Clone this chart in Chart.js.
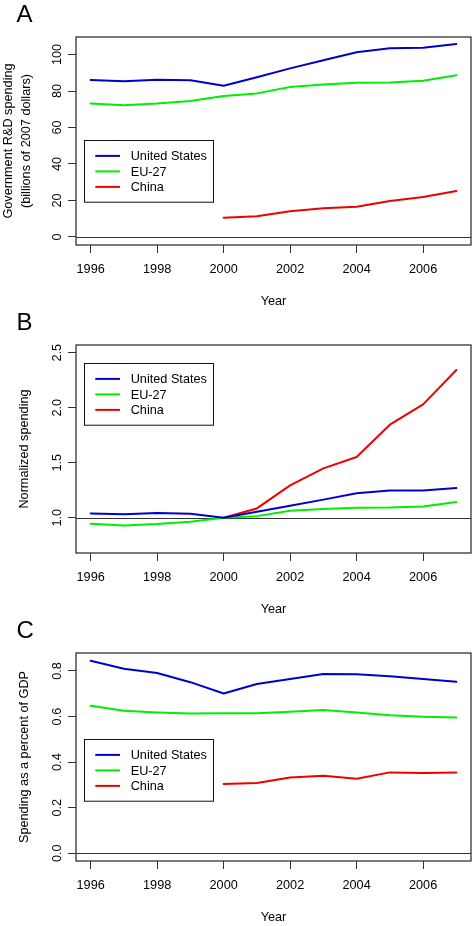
<!DOCTYPE html>
<html><head><meta charset="utf-8">
<script src="https://cdn.jsdelivr.net/npm/chart.js@4.4.1/dist/chart.umd.min.js"></script>
<style>
html,body{margin:0;padding:0;background:#fff;width:476px;height:926px;overflow:hidden;}
.panel{position:absolute;left:0;width:476px;height:308px;}
canvas{display:block;}
.lbl{position:absolute;left:16.5px;font-family:"Liberation Sans",Arial,sans-serif;font-size:24px;line-height:24px;color:#000;}
</style></head><body>
<div class="panel" style="top:0"><canvas id="cA" width="476" height="308"></canvas></div>
<div class="panel" style="top:308px"><canvas id="cB" width="476" height="308"></canvas></div>
<div class="panel" style="top:616px"><canvas id="cC" width="476" height="308"></canvas></div>
<div class="lbl" style="top:2px">A</div>
<div class="lbl" style="top:310px">B</div>
<div class="lbl" style="top:618px">C</div>
<script>
const years = [1996,1997,1998,1999,2000,2001,2002,2003,2004,2005,2006,2007];
const seriesNames = ['United States','EU-27','China'];
const seriesColors = ['#0000CD','#00EE00','#EE0000'];

const rdUS = [86.0,85.3,86.2,85.9,82.9,87.5,92.4,96.9,101.2,103.4,103.7,105.8];
const rdEU = [73.2,72.2,73.1,74.5,77.3,78.7,82.2,83.5,84.5,84.7,85.6,88.6];
const rdCN = [null,null,null,null,10.6,11.3,14.1,15.7,16.6,19.7,21.9,25.2];

const normUS = [1.040,1.031,1.043,1.036,1.000,1.055,1.109,1.165,1.222,1.249,1.249,1.270];
const normEU = [0.945,0.930,0.943,0.964,1.000,1.015,1.064,1.080,1.091,1.093,1.103,1.143];
const normCN = [null,null,null,null,1.000,1.085,1.294,1.449,1.552,1.846,2.030,2.343];

const gdpUS = [0.845,0.810,0.791,0.751,0.701,0.743,0.765,0.787,0.786,0.777,0.765,0.753];
const gdpEU = [0.647,0.626,0.618,0.613,0.615,0.614,0.621,0.629,0.618,0.606,0.599,0.596];
const gdpCN = [null,null,null,null,0.304,0.308,0.333,0.340,0.327,0.355,0.352,0.355];

const xTicks = [1996,1998,2000,2002,2004,2006];
const yTicksA = [0,20,40,60,80,100];
const yTickLabelsA = ['0','20','40','60','80','100'];
const yTicksB = [1.0,1.5,2.0,2.5];
const yTickLabelsB = ['1.0','1.5','2.0','2.5'];
const yTicksC = [0,0.2,0.4,0.6,0.8];
const yTickLabelsC = ['0.0','0.2','0.4','0.6','0.8'];

const FONT = '"Liberation Sans", Arial, sans-serif';
Chart.defaults.font.family = FONT;
Chart.defaults.font.size = 12.7;
Chart.defaults.color = '#000';
const AXC = '#333';

const refPlugin = {
  id: 'refline',
  beforeDatasetsDraw(chart, args, opts) {
    const {ctx, chartArea: a, scales} = chart;
    const y = Math.round(scales.y.getPixelForValue(opts.value)) + 0.5;
    ctx.save();
    ctx.strokeStyle = AXC; ctx.lineWidth = 1;
    ctx.beginPath(); ctx.moveTo(a.left, y); ctx.lineTo(a.right, y); ctx.stroke();
    ctx.restore();
  }
};
const framePlugin = {
  id: 'rframe',
  afterDraw(chart, args, opts) {
    const {ctx, chartArea: a} = chart;
    ctx.save();
    ctx.strokeStyle = AXC; ctx.lineWidth = 1.3;
    ctx.strokeRect(a.left, a.top, a.right - a.left, a.bottom - a.top);
    // legend box
    const bx = a.left + opts.dx, by = a.top + opts.dy, bw = 129, bh = 61.7;
    ctx.fillStyle = '#fff';
    ctx.fillRect(bx, by, bw, bh);
    ctx.strokeStyle = '#111'; ctx.lineWidth = 1;
    ctx.strokeRect(Math.round(bx) + 0.5, Math.round(by) + 0.5, bw, bh);
    ctx.font = '12.7px ' + FONT;
    ctx.textBaseline = 'middle'; ctx.textAlign = 'left';
    chart.data.datasets.forEach((ds, i) => {
      const ry = by + 15.6 + i * 15.5;
      ctx.strokeStyle = ds.borderColor; ctx.lineWidth = 2;
      ctx.beginPath(); ctx.moveTo(bx + 11, ry); ctx.lineTo(bx + 35.7, ry); ctx.stroke();
      ctx.fillStyle = '#000';
      ctx.fillText(ds.label, bx + 46.4, ry + 0.6);
    });
    ctx.restore();
  }
};

function makeChart(id, values, yMin, yMax, yTicks, yTickLabels, yTitle, yTitlePad, yTickPad, ref, legendDy) {
  const datasets = values.map((vals, i) => ({
    label: seriesNames[i],
    data: years.map((yr, j) => ({x: yr, y: vals[j]})),
    borderColor: seriesColors[i],
    borderWidth: 2,
    pointRadius: 0,
    tension: 0,
    fill: false,
    spanGaps: false,
    borderCapStyle: 'round',
    borderJoinStyle: 'round'
  }));
  return new Chart(document.getElementById(id), {
    type: 'line',
    data: {datasets},
    plugins: [refPlugin, framePlugin],
    options: {
      responsive: false,
      animation: false,
      devicePixelRatio: 1,
      events: [],
      layout: {padding: {left: 0, right: 5, top: 37, bottom: 0}},
      plugins: {
        legend: {display: false},
        tooltip: {enabled: false},
        refline: {value: ref},
        rframe: {dx: 8.3, dy: legendDy}
      },
      scales: {
        x: {
          type: 'linear',
          min: 1995.56, max: 2007.44,
          afterBuildTicks: s => { s.ticks = xTicks.map(v => ({value: v})); },
          afterFit: s => { s.height = 63; },
          ticks: {callback: v => String(v), padding: 9.3, autoSkip: false, maxRotation: 0, color: '#000', font: {size: 12.7}},
          grid: {display: true, drawOnChartArea: false, drawTicks: true, tickLength: 8, color: AXC, lineWidth: 1},
          border: {display: false},
          title: {display: true, text: 'Year', color: '#000', font: {size: 12.7, lineHeight: 1.04}, padding: 0}
        },
        y: {
          type: 'linear',
          min: yMin, max: yMax,
          afterBuildTicks: s => { s.ticks = yTicks.map(v => ({value: v})); },
          afterFit: s => { s.width = 76; },
          ticks: {
            callback: v => { const k = yTicks.findIndex(t => Math.abs(t - v) < 1e-9); return k >= 0 ? yTickLabels[k] : ''; },
            minRotation: 90, maxRotation: 90, crossAlign: 'center', padding: yTickPad, autoSkip: false, color: '#000', font: {size: 12.7}
          },
          grid: {display: true, drawOnChartArea: false, drawTicks: true, tickLength: 8, color: AXC, lineWidth: 1},
          border: {display: false},
          title: {display: true, text: yTitle, color: '#000', font: {size: 12.7, lineHeight: 1.4}, padding: {top: yTitlePad, bottom: 0}}
        }
      }
    }
  });
}

makeChart('cA', [rdUS, rdEU, rdCN], -4.4, 109.6, yTicksA, yTickLabelsA,
  ['Government R&D spending', '(billions of 2007 dollars)'], 0, 0.2, 0, 103.3);
makeChart('cB', [normUS, normEU, normCN], 0.68, 2.57, yTicksB, yTickLabelsB,
  'Normalized spending', 15.8, 2.0, 1.0, 18.3);
makeChart('cC', [gdpUS, gdpEU, gdpCN], -0.034, 0.879, yTicksC, yTickLabelsC,
  'Spending as a percent of GDP', 15.8, 2.0, 0, 86.3);
</script>
</body></html>
